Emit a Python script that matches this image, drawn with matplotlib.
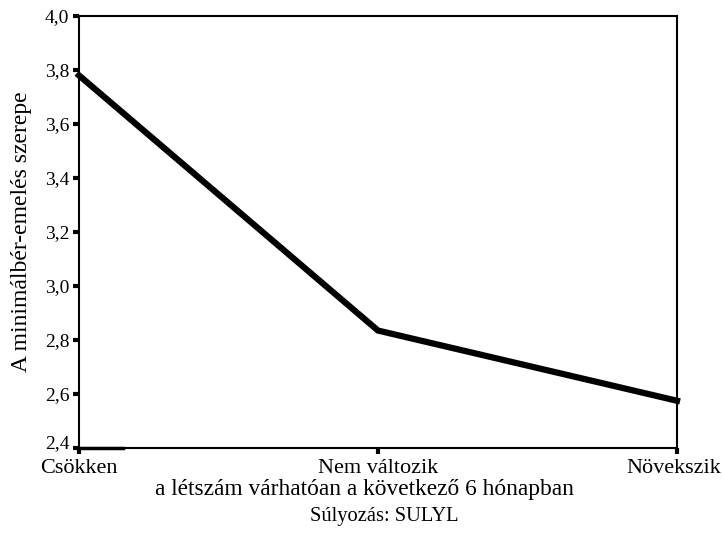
import matplotlib.pyplot as plt
import matplotlib.transforms as mtransforms
from matplotlib.ticker import FuncFormatter

categories = ['Csökken', 'Nem változik', 'Növekszik']
values = [3.78, 2.835, 2.575]
y_ticks = [2.4, 2.6, 2.8, 3.0, 3.2, 3.4, 3.6, 3.8, 4.0]

plt.rcParams['font.family'] = ['Liberation Serif', 'DejaVu Serif']

fig = plt.figure(figsize=(7.22, 5.39), dpi=100)
ax = fig.add_axes([79/722, 1 - 448/539, (677 - 79)/722, (448 - 16)/539])

x = list(range(len(categories)))
ax.plot(x, values, color='black', lw=4.5, solid_joinstyle='miter', clip_on=False)

ax.set_xlim(0, len(categories) - 1)
ax.set_ylim(2.4, 4.0)
ax.set_xticks(x)
ax.set_xticklabels(categories, fontsize=16)
ax.set_yticks(y_ticks)
ax.yaxis.set_major_formatter(FuncFormatter(lambda v, p: f'{v:.1f}'.replace('.', ',')))
ax.tick_params(axis='y', labelsize=14, length=4, width=3, pad=3)
ax.tick_params(axis='x', length=4, width=3, pad=4)

# lift the lowest y label and nudge the last x label inside the figure
ylabs = ax.get_yticklabels()
ylabs[0].set_transform(ylabs[0].get_transform() +
                       mtransforms.ScaledTranslation(0, 6/100, fig.dpi_scale_trans))
xlabs = ax.get_xticklabels()
xlabs[-1].set_transform(xlabs[-1].get_transform() +
                        mtransforms.ScaledTranslation(-3/100, 0, fig.dpi_scale_trans))

for s in ax.spines.values():
    s.set_linewidth(1.5)

# small thicker stub on the bottom spine
ax.plot([0, 0.073], [0, 0], transform=ax.transAxes, color='black', lw=2.5, clip_on=False)

ax.set_ylabel('A minimálbér-emelés szerepe', fontsize=17, labelpad=9)
fig.text(364/722, 1 - 489/539, 'a létszám várhatóan a következő 6 hónapban',
         ha='center', va='center', fontsize=16.8)
fig.text(384/722, 1 - 517/539, 'Súlyozás: SULYL', ha='center', va='center', fontsize=14.8)

fig.savefig('out.png', dpi=100)
